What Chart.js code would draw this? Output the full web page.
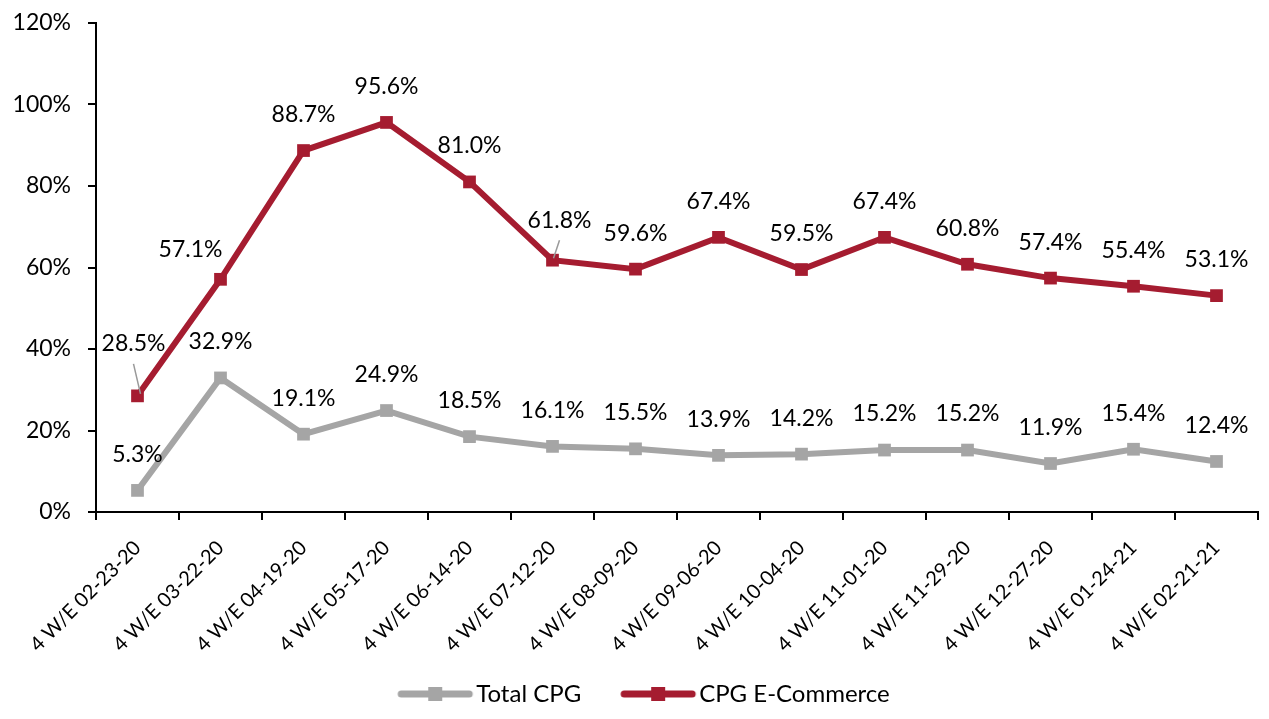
<!DOCTYPE html>
<html>
<head>
<meta charset="utf-8">
<script src="https://cdn.jsdelivr.net/npm/chart.js@4.4.1/dist/chart.umd.min.js"></script>
<style>
  html, body { margin: 0; padding: 0; background: #fff; }
  #wrap { width: 1269px; height: 719px; }
</style>
</head>
<body>
<div id="wrap"><canvas id="grafico"></canvas></div>
<script>
const categories = ['4 W/E 02-23-20', '4 W/E 03-22-20', '4 W/E 04-19-20', '4 W/E 05-17-20', '4 W/E 06-14-20',
    '4 W/E 07-12-20', '4 W/E 08-09-20', '4 W/E 09-06-20', '4 W/E 10-04-20', '4 W/E 11-01-20',
    '4 W/E 11-29-20', '4 W/E 12-27-20', '4 W/E 01-24-21', '4 W/E 02-21-21'];
const totalCpg = [5.3, 32.9, 19.1, 24.9, 18.5, 16.1, 15.5, 13.9, 14.2, 15.2, 15.2, 11.9, 15.4, 12.4];
const ecommerce = [28.5, 57.1, 88.7, 95.6, 81.0, 61.8, 59.6, 67.4, 59.5, 67.4, 60.8, 57.4, 55.4, 53.1];
const yTickValues = [0, 20, 40, 60, 80, 100, 120];

const GRAY = '#A5A5A5';
const RED = '#A51C30';
const FONT = 'Lato';

// icone da legenda: linha com quadrado no meio (espaco vazio a esquerda = distancia entre itens)
function iconeLegenda(cor) {
    const c = document.createElement('canvas');
    c.width = 120;
    c.height = 16;
    const g = c.getContext('2d');
    g.strokeStyle = cor;
    g.lineWidth = 7;
    g.lineCap = 'round';
    g.beginPath();
    g.moveTo(45, 8);
    g.lineTo(113, 8);
    g.stroke();
    g.fillStyle = cor;
    g.fillRect(72, 1, 14, 14);
    return c;
}
const icones = [iconeLegenda(GRAY), iconeLegenda(RED)];

// rotulos de dados (posicao padrao acima do ponto, alguns deslocados)
const rotulos = {
    id: 'rotulos',
    afterDatasetsDraw(chart, args, opts) {
        const ctx = chart.ctx;
        ctx.save();
        ctx.font = '23px ' + FONT;
        ctx.fillStyle = '#000';
        ctx.textAlign = 'center';
        ctx.textBaseline = 'middle';
        chart.data.datasets.forEach((ds, d) => {
            const meta = chart.getDatasetMeta(d);
            meta.data.forEach((pt, i) => {
                const ajuste = (opts.ajustes[d] || {})[i] || {};
                const dx = ajuste.dx || 0;
                const dy = ajuste.dy !== undefined ? ajuste.dy : -36;
                if (ajuste.linha) {
                    ctx.strokeStyle = '#999';
                    ctx.lineWidth = 1.5;
                    ctx.beginPath();
                    ctx.moveTo(pt.x + ajuste.linha[0], pt.y + ajuste.linha[1]);
                    ctx.lineTo(pt.x + ajuste.linha[2], pt.y + ajuste.linha[3]);
                    ctx.stroke();
                }
                ctx.fillText(ds.data[i].toFixed(1) + '%', pt.x + dx, pt.y + dy);
            });
        });
        ctx.restore();
    }
};

const ctx = document.getElementById('grafico').getContext('2d');
const grafico = new Chart(ctx, {
    type: 'line',
    data: {
        labels: categories,
        datasets: [{
            label: 'Total CPG',
            data: totalCpg,
            borderColor: GRAY,
            backgroundColor: GRAY,
            borderWidth: 6,
            pointStyle: 'rect',
            pointRadius: 9,
            pointBorderWidth: 0,
            pointBackgroundColor: GRAY
        }, {
            label: 'CPG E-Commerce',
            data: ecommerce,
            borderColor: RED,
            backgroundColor: RED,
            borderWidth: 6,
            pointStyle: 'rect',
            pointRadius: 9,
            pointBorderWidth: 0,
            pointBackgroundColor: RED
        }]
    },
    options: {
        responsive: true,
        maintainAspectRatio: false,
        animation: false,
        layout: {
            padding: { top: 23, right: 11, left: 0, bottom: 3 }
        },
        scales: {
            x: {
                offset: true,
                grid: {
                    offset: true,
                    drawOnChartArea: false,
                    drawTicks: true,
                    tickLength: 8,
                    color: '#000',
                    lineWidth: 2
                },
                border: { display: true, color: '#000', width: 2 },
                ticks: {
                    minRotation: 45,
                    maxRotation: 45,
                    autoSkip: false,
                    padding: 16,
                    color: '#000',
                    font: { family: FONT, size: 20 }
                },
                afterFit(scale) { scale.height = 160; }
            },
            y: {
                min: 0,
                max: 120,
                afterBuildTicks(scale) {
                    scale.ticks = yTickValues.map(v => ({ value: v }));
                },
                grid: {
                    drawOnChartArea: false,
                    drawTicks: true,
                    tickLength: 8,
                    color: '#000',
                    lineWidth: 2
                },
                border: { display: true, color: '#000', width: 2 },
                ticks: {
                    padding: 17,
                    color: '#000',
                    font: { family: FONT, size: 23 },
                    callback: v => v + '%'
                },
                afterFit(scale) {
                    scale.width = 96;
                    scale.paddingTop = 0;
                    scale.paddingBottom = 0;
                }
            }
        },
        plugins: {
            legend: {
                position: 'bottom',
                labels: {
                    usePointStyle: true,
                    pointStyleWidth: 96,
                    padding: 10,
                    color: '#000',
                    font: { family: FONT, size: 24 },
                    generateLabels(chart) {
                        const itens = Chart.defaults.plugins.legend.labels.generateLabels(chart);
                        itens.forEach((it, i) => { it.pointStyle = icones[i]; });
                        return itens;
                    }
                }
            },
            tooltip: { enabled: false },
            rotulos: {
                ajustes: {
                    1: {
                        0: { dx: -4, dy: -52, linha: [-4, -32, 3, -2] },
                        1: { dx: -30, dy: -30 },
                        5: { dx: 7, dy: -40, linha: [7, -20, 1, -2] }
                    }
                }
            }
        }
    },
    plugins: [rotulos]
});
</script>
</body>
</html>
